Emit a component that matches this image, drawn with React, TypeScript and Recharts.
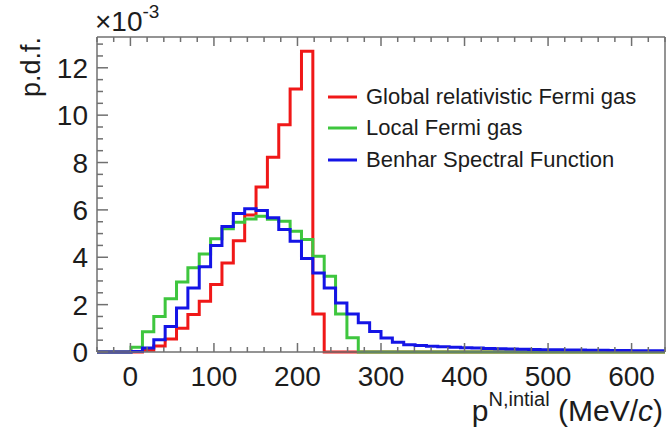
import { LineChart, Line, XAxis, YAxis, Legend } from 'recharts';

// bin low edges (MeV/c), 50 bins from -40 to 640, last entry is the upper edge
const binEdges = [
  -40, -26.4, -12.8, 0.8, 14.4, 28, 41.6, 55.2, 68.8, 82.4,
  96, 109.6, 123.2, 136.8, 150.4, 164, 177.6, 191.2, 204.8, 218.4,
  232, 245.6, 259.2, 272.8, 286.4, 300, 313.6, 327.2, 340.8, 354.4,
  368, 381.6, 395.2, 408.8, 422.4, 436, 449.6, 463.2, 476.8, 490.4,
  504, 517.6, 531.2, 544.8, 558.4, 572, 585.6, 599.2, 612.8, 626.4, 640,
];

// p.d.f. per bin, in units of 1e-3
const globalRFG = [
  0, 0, 0, 0, 0.07, 0.25, 0.55, 1.0, 1.58, 2.14,
  2.85, 3.76, 4.7, 5.78, 6.97, 8.22, 9.6, 11.1, 12.7, 1.6,
  0, 0, 0, 0, 0, 0, 0, 0, 0, 0,
  0, 0, 0, 0, 0, 0, 0, 0, 0, 0,
  0, 0, 0, 0, 0, 0, 0, 0, 0, 0,
];
const localFG = [
  0, 0, 0, 0.2, 0.85, 1.5, 2.25, 2.96, 3.56, 4.14,
  4.78, 5.2, 5.48, 5.62, 5.73, 5.6, 5.52, 5.1, 4.75, 4.04,
  3.2, 1.6, 0.6, 0, 0, 0, 0, 0, 0, 0,
  0, 0, 0, 0, 0, 0, 0, 0, 0, 0,
  0, 0, 0, 0, 0, 0, 0, 0, 0, 0,
];
const benharSF = [
  0, 0, 0, 0.02, 0.17, 0.52, 1.08, 1.86, 2.7, 3.6,
  4.5, 5.3, 5.85, 6.05, 5.97, 5.67, 5.17, 4.68, 3.95, 3.34,
  2.7, 2.07, 1.6, 1.23, 0.87, 0.59, 0.41, 0.31, 0.27, 0.24,
  0.22, 0.2, 0.18, 0.17, 0.15, 0.14, 0.13, 0.12, 0.11, 0.1,
  0.09, 0.085, 0.08, 0.075, 0.07, 0.065, 0.06, 0.055, 0.05, 0.05,
];

const seriesNames = ['Global relativistic Fermi gas', 'Local Fermi gas', 'Benhar Spectral Function'];

const xTicks = [
  -40, -20, 0, 20, 40, 60, 80, 100, 120, 140, 160, 180, 200, 220, 240, 260, 280, 300,
  320, 340, 360, 380, 400, 420, 440, 460, 480, 500, 520, 540, 560, 580, 600, 620, 640,
];
const xLabels = [0, 100, 200, 300, 400, 500, 600];
const yTicks = [
  0, 0.5, 1, 1.5, 2, 2.5, 3, 3.5, 4, 4.5, 5, 5.5, 6, 6.5, 7, 7.5, 8, 8.5, 9, 9.5,
  10, 10.5, 11, 11.5, 12, 12.5, 13,
];
const yLabels = [0, 2, 4, 6, 8, 10, 12];

const AXIS = '#707070';
const INK = '#1c1c1c';
const FONT = '"Liberation Sans", Arial, Helvetica, sans-serif';

const data = binEdges.map((x, i) => {
  const k = Math.min(i, globalRFG.length - 1);
  return { x, rfg: globalRFG[k], lfg: localFG[k], sf: benharSF[k] };
});

function BottomTick({ x, y, payload }: any) {
  const major = xLabels.includes(payload.value);
  return (
    <g>
      <line x1={x} x2={x} y1={y} y2={y - (major ? 9 : 5)} stroke={AXIS} strokeWidth={1.5} />
      {major && (
        <text x={x} y={y + 34} textAnchor="middle" fontSize={28} fill={INK} fontFamily={FONT}>
          {payload.value}
        </text>
      )}
    </g>
  );
}

function TopTick({ x, y, payload }: any) {
  const major = xLabels.includes(payload.value);
  return <line x1={x} x2={x} y1={y} y2={y + (major ? 9 : 5)} stroke={AXIS} strokeWidth={1.5} />;
}

function LeftTick({ x, y, payload }: any) {
  const major = yLabels.includes(payload.value);
  return (
    <g>
      <line x1={x} x2={x + (major ? 11 : 6)} y1={y} y2={y} stroke={AXIS} strokeWidth={1.5} />
      {major && (
        <text x={x - 9} y={y + 10} textAnchor="end" fontSize={28} fill={INK} fontFamily={FONT}>
          {payload.value}
        </text>
      )}
    </g>
  );
}

function RightTick({ x, y, payload }: any) {
  const major = yLabels.includes(payload.value);
  return <line x1={x} x2={x - (major ? 11 : 6)} y1={y} y2={y} stroke={AXIS} strokeWidth={1.5} />;
}

function LegendBox({ payload }: any) {
  const items = [...(payload || [])].sort(
    (a: any, b: any) => seriesNames.indexOf(a.value) - seriesNames.indexOf(b.value),
  );
  return (
    <div style={{ fontFamily: FONT, fontSize: 22, color: INK }}>
      {items.map((e: any) => (
        <div key={e.value} style={{ display: 'flex', alignItems: 'center', height: 31.5 }}>
          <svg width={44} height={10} style={{ flex: 'none' }}>
            <line x1={6} x2={35} y1={5} y2={5} stroke={e.color} strokeWidth={3} />
          </svg>
          <span style={{ whiteSpace: 'nowrap' }}>{e.value}</span>
        </div>
      ))}
    </div>
  );
}

export default function App() {
  return (
    <div style={{ position: 'absolute', left: 0, top: 0, width: 667, height: 432, background: '#fff' }}>
      <LineChart width={667} height={432} data={data} margin={{ top: 0, right: 0, bottom: 0, left: 0 }}>
        <XAxis
          dataKey="x"
          type="number"
          domain={[-40, 640]}
          ticks={xTicks}
          interval={0}
          height={80}
          tickSize={0}
          tickMargin={0}
          tickLine={false}
          tick={BottomTick}
          axisLine={{ stroke: AXIS, strokeWidth: 1.5 }}
          label={{
            content: ({ viewBox }: any) => (
              <text x={viewBox.x + viewBox.width - 2} y={viewBox.y + 69} textAnchor="end" fontSize={30} fill={INK} fontFamily={FONT}>
                p<tspan dy={-15} fontSize={20}>N,intial</tspan>
                <tspan dy={15}> (MeV/</tspan>
                <tspan fontStyle="italic">c</tspan>
                <tspan>)</tspan>
              </text>
            ),
          }}
        />
        <XAxis
          xAxisId="top"
          orientation="top"
          dataKey="x"
          type="number"
          domain={[-40, 640]}
          ticks={xTicks}
          interval={0}
          height={37}
          tickSize={0}
          tickMargin={0}
          tickLine={false}
          tick={TopTick}
          axisLine={{ stroke: AXIS, strokeWidth: 1.5 }}
          label={{
            content: ({ viewBox }: any) => (
              <text x={viewBox.x - 2} y={31} fontSize={28} fill={INK} fontFamily={FONT}>
                ×10<tspan dy={-13} fontSize={19}>-3</tspan>
              </text>
            ),
          }}
        />
        <YAxis
          type="number"
          domain={[0, 13.3]}
          ticks={yTicks}
          interval={0}
          width={97}
          tickSize={0}
          tickMargin={0}
          tickLine={false}
          tick={LeftTick}
          axisLine={{ stroke: AXIS, strokeWidth: 1.5 }}
          label={{
            content: ({ viewBox }: any) => (
              <text
                x={0}
                y={0}
                transform={`translate(${viewBox.x + 40}, ${viewBox.y}) rotate(-90)`}
                textAnchor="end"
                fontSize={27}
                fill={INK}
                fontFamily={FONT}
              >
                p.d.f.
              </text>
            ),
          }}
        />
        <YAxis
          yAxisId="right"
          orientation="right"
          type="number"
          domain={[0, 13.3]}
          ticks={yTicks}
          interval={0}
          width={2}
          tickSize={0}
          tickMargin={0}
          tickLine={false}
          tick={RightTick}
          axisLine={{ stroke: AXIS, strokeWidth: 1.5 }}
        />
        <Legend
          layout="vertical"
          align="center"
          verticalAlign="middle"
          content={LegendBox}
          wrapperStyle={{ left: 322, top: 81, width: 340 }}
        />
        <Line type="stepAfter" dataKey="rfg" name={seriesNames[0]} stroke="#f01818" strokeWidth={3} dot={false} isAnimationActive={false} />
        <Line type="stepAfter" dataKey="lfg" name={seriesNames[1]} stroke="#3ec63e" strokeWidth={3} dot={false} isAnimationActive={false} />
        <Line type="stepAfter" dataKey="sf" name={seriesNames[2]} stroke="#1414e6" strokeWidth={3} dot={false} isAnimationActive={false} />
      </LineChart>
    </div>
  );
}
